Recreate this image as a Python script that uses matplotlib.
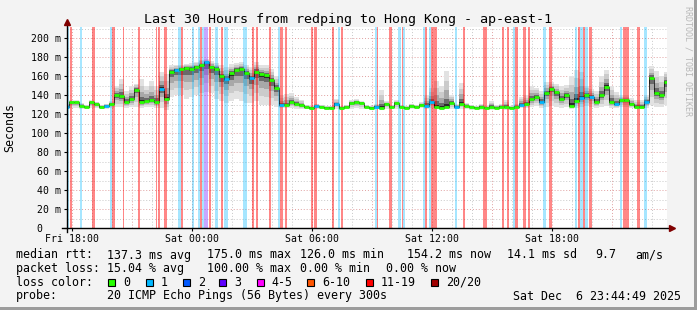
import numpy as np
import matplotlib
matplotlib.use('Agg')
import matplotlib.pyplot as plt
from matplotlib.patches import Rectangle

# ---- data: 15-min samples from Fri 17:45 to Sat 23:45 (hours since Fri 00:00)
t_start = 17.75
t_step = 0.25

median_ms = [128, 133, 133, 129, 128, 133, 131, 128, 129, 131,
             140, 139, 133, 136, 146, 133, 134, 135, 133, 147,
             136, 165, 167, 168, 169, 168, 170, 172, 175, 170,
             168, 160, 157, 163, 167, 168, 164, 158, 165, 162,
             161, 156, 148, 130, 130, 133, 131, 130, 128, 127,
             129, 128, 127, 127, 131, 127, 128, 132, 133, 132,
             128, 127, 128, 127, 131, 128, 132, 128, 127, 129,
             128, 130, 129, 133, 128, 127, 128, 132, 128, 131,
             129, 128, 127, 128, 127, 128, 127, 128, 128, 127,
             128, 130, 131, 136, 138, 133, 142, 147, 143, 136,
             140, 129, 134, 137, 140, 138, 133, 140, 149, 133,
             131, 135, 135, 131, 128, 128, 133, 158, 142, 140,
             154]

smoke_hi = [131, 135, 135, 132, 130, 135, 133, 130, 131, 134,
            150, 157, 145, 150, 152, 157, 150, 155, 150, 165, 162,
            172, 172, 172, 173, 174, 175, 177, 178, 176, 174, 172,
            170, 173, 174, 175, 172, 170, 175, 172, 172, 168, 160,
            140, 141, 142, 138, 135,
            130, 129, 131, 130, 129, 129, 136, 129, 130, 135,
            136, 134, 130, 129, 131, 146, 134, 130, 135, 130,
            129, 131, 130, 133, 140, 148, 155, 150, 166, 140,
            131, 153, 132, 130, 129, 131, 129, 134, 130, 131,
            135, 129, 131,
            138, 140, 150, 148, 145, 154, 154, 152, 150, 151,
            160, 167, 165, 150, 147, 145, 160, 167, 150, 144,
            140, 140, 137, 135, 135, 140, 171, 166, 160, 165]

smoke_lo = [126, 127, 127, 126, 126, 127, 127, 126, 126, 127,
            128, 128, 127, 128, 128, 127, 128, 128, 127, 127, 125,
            138, 140, 140, 136, 138, 140, 142, 144, 142, 136, 134,
            132, 134, 136, 134, 132, 132, 134, 130, 130, 130, 128,
            127, 127, 127, 126, 126,
            126, 125, 126, 126, 125, 125, 126, 125, 126, 126,
            127, 126, 126, 125, 126, 125, 126, 126, 126, 126,
            125, 126, 126, 127, 126, 127, 126, 125, 126, 126,
            126, 126, 126, 125, 126, 125, 126, 125, 126, 126,
            125, 126, 127,
            127, 127, 128, 129, 127, 128, 129, 128, 127, 128,
            126, 127, 128, 129, 128, 127, 128, 129, 127, 127,
            128, 128, 127, 126, 126, 127, 130, 128, 128, 130]

# samples whose median is drawn with 1 lost ping
blue_idx = [0, 8, 19, 22, 28, 32, 37, 43, 50, 54, 62, 72, 73, 78,
            91, 95, 103, 105, 110, 116]

# loss stripes: (start hour, end hour, loss class)
stripes = [
    (17.77, 17.87, 1), (17.92, 18.02, 19), (18.42, 18.52, 1), (19.02, 19.17, 19),
    (19.92, 20.02, 1), (20.02, 20.17, 19), (20.57, 20.64, 19), (21.32, 21.42, 19),
    (22.22, 22.29, 19), (22.32, 22.42, 19), (22.62, 22.77, 19), (23.32, 23.47, 1),
    (23.47, 23.57, 19), (24.02, 24.12, 1), (24.32, 24.42, 1), (24.42, 24.52, 19),
    (24.52, 24.62, 1), (24.62, 24.82, 3), (24.87, 24.97, 19), (25.17, 25.32, 1),
    (25.47, 25.57, 19), (25.62, 25.82, 1), (26.57, 26.77, 1), (27.02, 27.12, 19),
    (27.22, 27.32, 19), (27.87, 27.97, 19), (28.32, 28.42, 1), (28.42, 28.57, 19),
    (28.67, 28.77, 19), (29.97, 30.04, 19), (30.12, 30.27, 19), (31.02, 31.12, 19),
    (31.32, 31.42, 1), (31.47, 31.57, 19), (33.17, 33.27, 1), (33.27, 33.32, 19),
    (33.87, 34.02, 19), (34.32, 34.47, 1), (34.52, 34.57, 19), (34.57, 34.67, 1),
    (35.57, 35.67, 1), (35.67, 35.77, 19), (35.87, 35.97, 1), (35.97, 36.27, 19),
    (37.17, 37.27, 1), (37.57, 37.67, 19), (38.57, 38.77, 19), (39.52, 39.62, 19),
    (39.77, 39.87, 19), (40.07, 40.17, 1), (40.17, 40.32, 19), (40.57, 40.72, 19),
    (40.82, 40.92, 19), (41.57, 41.72, 1), (41.87, 42.02, 19), (43.17, 43.27, 1),
    (43.32, 43.42, 19), (43.42, 43.57, 1), (43.57, 43.67, 19), (43.67, 43.82, 1),
    (43.87, 44.02, 19), (45.42, 45.52, 1), (45.57, 45.87, 19), (46.27, 46.42, 19),
    (46.62, 46.77, 1),
]

tick_hours = [18, 24, 30, 36, 42]
tick_labels = ['Fri 18:00', 'Sat 00:00', 'Sat 06:00', 'Sat 12:00', 'Sat 18:00']
y_ticks = [0, 20, 40, 60, 80, 100, 120, 140, 160, 180, 200]

loss_names = ['0', '1', '2', '3', '4-5', '6-10', '11-19', '20/20']
loss_colors = ['#26ff00', '#00b8ff', '#0059ff', '#5e00ff', '#ff00ff',
               '#ff5500', '#ff0000', '#a10000']
stripe_style = {1: ('#00b8ff', 0.35), 3: ('#7e30ff', 0.42), 19: ('#ff0000', 0.47)}

# ---- layout in pixels
W, H = 697, 310
L, R, T, B = 66.7, 666.7, 27.0, 228.3
MONO = 'DejaVu Sans Mono'


def fx(x):
    return x / W


def fy(y):
    return 1 - y / H


fig = plt.figure(figsize=(W / 100, H / 100), dpi=100, facecolor='#f3f3f3')
fig.patches.append(Rectangle((fx(694), 0), 3 / W, 1, transform=fig.transFigure,
                             color='#9c9c9c', lw=0))
fig.patches.append(Rectangle((0, 0), 1, 3 / H, transform=fig.transFigure,
                             color='#9c9c9c', lw=0))

ax = fig.add_axes([fx(L), fy(B), (R - L) / W, (B - T) / H])
ax.set_facecolor('white')
ymax = (B - T) / 0.95
t = t_start + t_step * np.arange(len(median_ms))
ax.set_xlim(t_start, t_start + 30)
ax.set_ylim(0, ymax)
for s in ax.spines.values():
    s.set_visible(False)

# grid
for h in range(18, 48):
    ax.axvline(h, color='#e0a0a0' if h % 3 == 0 else '#c8c8c8',
               lw=0.7, ls=(0, (1, 2)), zorder=1)
for v in range(10, 211, 10):
    ax.axhline(v, color='#e0a0a0' if v % 20 == 0 else '#c8c8c8',
               lw=0.7, ls=(0, (1, 2)), zorder=1)

# smoke
med = np.array(median_ms, float)
hi = np.array(smoke_hi, float)
lo = np.array(smoke_lo, float)
for f, c in [(1.0, '#e2e2e2'), (0.72, '#cbcbcb'), (0.45, '#a8a8a8'),
             (0.22, '#6a6a6a'), (0.08, '#2a2a2a')]:
    ax.fill_between(t, med - f * (med - lo), med + f * (hi - med),
                    step='mid', color=c, lw=0, zorder=2)

# loss stripes
for s0, s1, k in stripes:
    c, a = stripe_style[k]
    ax.axvspan(s0, s1, color=c, alpha=a, lw=0, zorder=3, antialiased=False)

# median
ax.step(t, med, where='mid', color='black', lw=0.5, zorder=4)
cols = [loss_colors[1] if i in blue_idx else loss_colors[0] for i in range(len(med))]
ax.hlines(med, t - t_step / 2, t + t_step / 2, colors=cols, lw=2.0, zorder=5)

# axes + arrows
ax.plot([0, 0], [-0.02, 1.02], color='black', lw=1, transform=ax.transAxes,
        clip_on=False, zorder=6)
ax.plot([-0.008, 1.005], [0, 0], color='black', lw=1, transform=ax.transAxes,
        clip_on=False, zorder=6)
ax.plot([0], [1.025], marker='^', ms=4, color='#800000', transform=ax.transAxes,
        clip_on=False, zorder=7)
ax.plot([1.008], [0], marker='>', ms=4, color='#800000', transform=ax.transAxes,
        clip_on=False, zorder=7)

ax.set_xticks(tick_hours)
ax.set_xticklabels(tick_labels, family=MONO, fontsize=7.1)
ax.set_yticks(y_ticks)
ax.set_yticklabels(['0   ' if v == 0 else f'{v} m' for v in y_ticks], family=MONO,
                   fontsize=7.1)
ax.tick_params(length=2, width=0.8, pad=2)

# texts
fig.text(fx(348), fy(19), 'Last 30 Hours from redping to Hong Kong - ap-east-1',
         family=MONO, fontsize=9.6, ha='center', va='center')
fig.text(fx(10), fy(128), 'Seconds', family=MONO, fontsize=8.4, rotation=90,
         ha='center', va='center')
fig.text(fx(688), fy(6), 'RRDTOOL / TOBI OETIKER', family=MONO, fontsize=6,
         rotation=270, ha='center', va='top', color='#b8b8b8')

fs = 8.4
rows = [
    (255, [(16, 'median rtt:'), (107.3, '137.3 ms avg'), (207.3, '175.0 ms max'),
           (300, '126.0 ms min'), (407.3, '154.2 ms now'), (506.7, '14.1 ms sd'),
           (595.7, '9.7'), (635.7, 'am/s')]),
    (268.5, [(16, 'packet loss:'), (107.3, '15.04 % avg'), (207.3, '100.00 % max'),
             (300, '0.00 % min'), (386, '0.00 % now')]),
    (296, [(16, 'probe:'), (107.3, '20 ICMP Echo Pings (56 Bytes) every 300s')]),
]
for y, items in rows:
    for x, s in items:
        fig.text(fx(x), fy(y), s, family=MONO, fontsize=fs, va='center')
fig.text(fx(681), fy(296), 'Sat Dec  6 23:44:49 2025', family=MONO, fontsize=fs,
         va='center', ha='right')

fig.text(fx(16), fy(282.3), 'loss color:', family=MONO, fontsize=fs, va='center')
box_x = [108.3, 145.7, 182.7, 219.3, 256.7, 307.3, 365.7, 431]
for bx, name, c in zip(box_x, loss_names, loss_colors):
    fig.patches.append(Rectangle((fx(bx), fy(286)), 7 / W, 7 / H,
                                 transform=fig.transFigure, facecolor=c,
                                 edgecolor='black', lw=0.8))
    fig.text(fx(bx + 15), fy(282.3), name, family=MONO, fontsize=fs, va='center')

fig.savefig('out.png', dpi=100, facecolor=fig.get_facecolor())
